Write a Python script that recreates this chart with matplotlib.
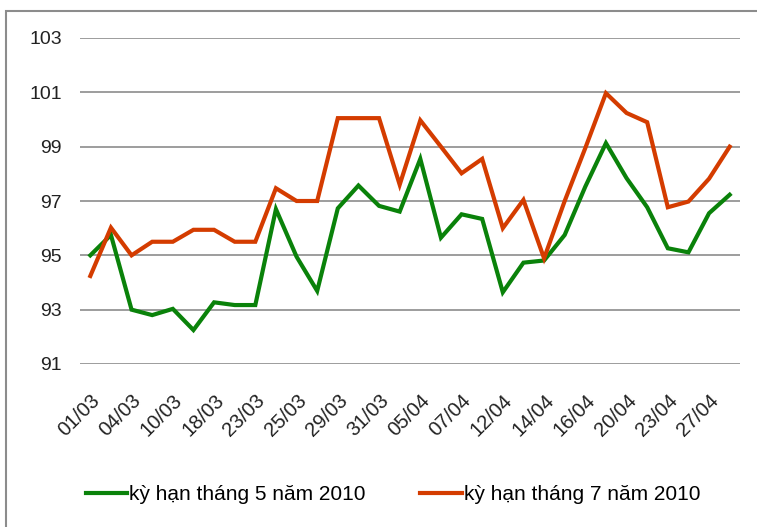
import matplotlib
matplotlib.use("Agg")
import matplotlib.pyplot as plt
from matplotlib.patches import Rectangle
from matplotlib.lines import Line2D

tick_labels = ["01/03", "04/03", "10/03", "18/03", "23/03", "25/03", "29/03", "31/03",
               "05/04", "07/04", "12/04", "14/04", "16/04", "20/04", "23/04", "27/04"]

may_2010 = [95.0, 95.75, 93.0, 92.8, 93.03, 92.25, 93.27, 93.17, 93.17, 96.7, 94.95, 93.69,
            96.73, 97.57, 96.82, 96.61, 98.55, 95.65, 96.51, 96.34, 93.64, 94.73, 94.81, 95.75,
            97.53, 99.13, 97.84, 96.77, 95.26, 95.11, 96.55, 97.23]
jul_2010 = [94.24, 96.02, 95.0, 95.5, 95.5, 95.94, 95.94, 95.5, 95.5, 97.47, 97.0, 97.0,
            100.05, 100.05, 100.05, 97.6, 99.97, 99.0, 98.02, 98.55, 96.0, 97.04, 94.89, 97.0,
            98.95, 100.97, 100.24, 99.9, 96.77, 96.98, 97.82, 99.0]
series_names = ["kỳ hạn tháng 5 năm 2010", "kỳ hạn tháng 7 năm 2010"]
y_ticks = [91, 93, 95, 97, 99, 101, 103]

green = "#0a820a"
red = "#d43c00"

plt.rcParams['font.family'] = ['Liberation Sans', 'DejaVu Sans']

W, H = 757, 527
fig = plt.figure(figsize=(W / 100, H / 100), dpi=100)
fig.patch.set_facecolor("white")

# outer chart frame (clipped at right and bottom)
fig.patches.append(Rectangle((6 / W, -0.1), 1.2, 1 - 11 / H + 0.1, transform=fig.transFigure,
                             fill=False, edgecolor="#8c8c8c", linewidth=1.5))

ax = fig.add_axes([80 / W, 1 - 364 / H, 660 / W, (364 - 38) / H])
n = len(may_2010)
x = list(range(n))
ax.plot(x, may_2010, color=green, lw=3, solid_joinstyle="miter")
ax.plot(x, jul_2010, color=red, lw=3, solid_joinstyle="miter")

ax.set_xlim(-0.5, n - 0.5)
ax.set_ylim(91, 103)
ax.set_yticks(y_ticks)
ax.set_yticklabels([str(v) for v in y_ticks], fontsize=14, color="#222222")
ax.set_xticks(x[::2])
ax.set_xticklabels(tick_labels, rotation=45, ha="right", rotation_mode="anchor",
                   fontsize=14.5, color="#222222")
ax.tick_params(axis="both", length=0)
ax.tick_params(axis="y", pad=13)
ax.tick_params(axis="x", pad=19)
ax.yaxis.grid(True, color="#8c8c8c", lw=1.2)
ax.set_axisbelow(True)
for s in ax.spines.values():
    s.set_visible(False)

handles = [Line2D([], [], color=green, lw=3), Line2D([], [], color=red, lw=3)]
fig.legend(handles, series_names, loc="center", bbox_to_anchor=(393 / W, 1 - 495 / H),
           ncol=2, frameon=False, fontsize=15, handlelength=2.0, handletextpad=0.1,
           columnspacing=2.6)

fig.savefig("out.png", dpi=100)
